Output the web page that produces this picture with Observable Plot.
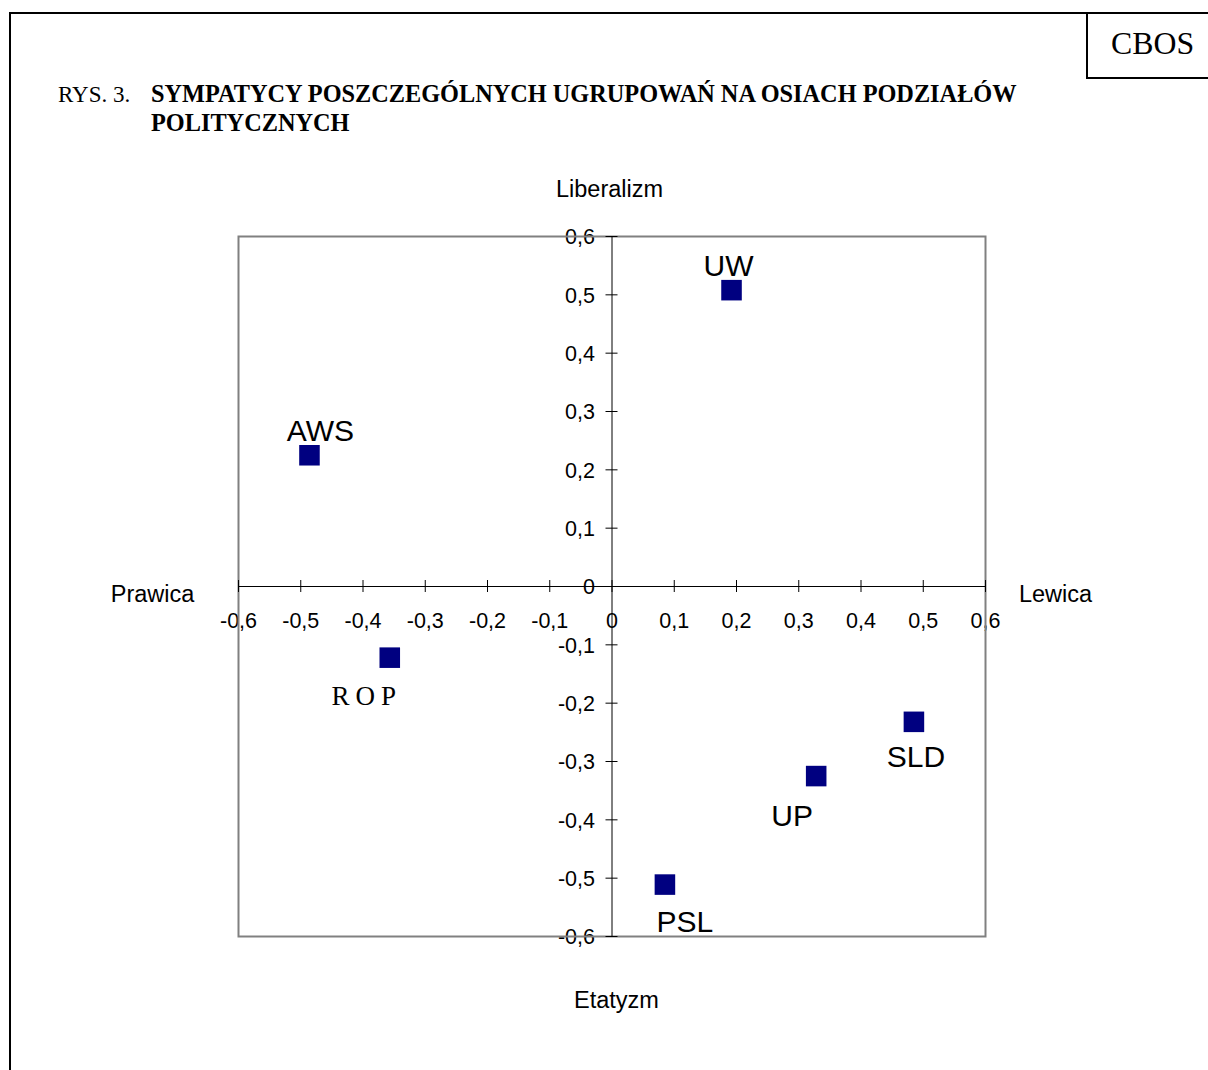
<!DOCTYPE html>
<html>
<head>
<meta charset="utf-8">
<script src="https://cdn.jsdelivr.net/npm/d3@7"></script>
<script src="https://cdn.jsdelivr.net/npm/@observablehq/plot@0.6"></script>
<style>
  html, body { margin: 0; padding: 0; background: #fff; overflow: hidden; }
  #page { position: relative; width: 1208px; height: 1070px; }
  #chart { position: absolute; left: 0; top: 0; }
  .line { position: absolute; background: #000; }
  .serif { position: absolute; font-family: "Liberation Serif", "Times New Roman", serif; color: #000; white-space: nowrap; line-height: 1; }
</style>
</head>
<body>
<div id="page">
  <div id="chart"></div>
  <div class="line" style="left:9px;top:12px;width:1199px;height:2px"></div>
  <div class="line" style="left:9px;top:12px;width:2px;height:1058px"></div>
  <div class="line" style="left:1086px;top:12px;width:2px;height:67px"></div>
  <div class="line" style="left:1086px;top:77px;width:122px;height:2px"></div>
  <div class="serif" style="left:1111px;top:28px;font-size:31.8px">CBOS</div>
  <div class="serif" style="left:58px;top:83px;font-size:23px">RYS. 3.</div>
  <div class="serif" style="left:151px;top:82px;font-size:24.3px;font-weight:bold">SYMPATYCY POSZCZEGÓLNYCH UGRUPOWAŃ NA OSIACH PODZIAŁÓW</div>
  <div class="serif" style="left:151px;top:111px;font-size:24.3px;font-weight:bold">POLITYCZNYCH</div>
</div>
<script>
// ---- data ----
const parties = ["UW", "AWS", "ROP", "SLD", "UP", "PSL"];
const leftRight = [0.192, -0.486, -0.357, 0.485, 0.328, 0.085];       // Prawica (-) .. Lewica (+)
const liberalStatist = [0.508, 0.225, -0.122, -0.232, -0.325, -0.511]; // Etatyzm (-) .. Liberalizm (+)
const tickValues = [-0.6, -0.5, -0.4, -0.3, -0.2, -0.1, 0, 0.1, 0.2, 0.3, 0.4, 0.5, 0.6];
const tickLabels = ["-0,6", "-0,5", "-0,4", "-0,3", "-0,2", "-0,1", "0", "0,1", "0,2", "0,3", "0,4", "0,5", "0,6"];
const axisTitles = {top: "Liberalizm", bottom: "Etatyzm", left: "Prawica", right: "Lewica"};

const points = parties.map((p, i) => ({party: p, x: leftRight[i], y: liberalStatist[i]}));

// label placement (styling, in pixels)
const labelStyle = {
  UW:  {dx: -3,  dy: -24},
  AWS: {dx: 11,  dy: -24},
  ROP: {dx: -23, dy: 39},
  SLD: {dx: 2,   dy: 36},
  UP:  {dx: -24, dy: 40},
  PSL: {dx: 20,  dy: 38}
};

const labelMarks = points.map(p => Plot.text([p], {
  x: "x", y: "y", text: "party",
  dx: labelStyle[p.party].dx, dy: labelStyle[p.party].dy,
  fontSize: p.party === "ROP" ? 27 : 30,
  fontFamily: p.party === "ROP" ? "Liberation Serif, serif" : "Liberation Sans, Arial, sans-serif",
  fill: "black"
}));

const titleFont = {fontSize: 23.5, fill: "black", fontFamily: "Liberation Sans, Arial, sans-serif"};

const chart = Plot.plot({
  width: 1208,
  height: 1070,
  marginLeft: 238,
  marginRight: 223,
  marginTop: 236,
  marginBottom: 134,
  style: {background: "transparent", fontFamily: "Liberation Sans, Arial, sans-serif", overflow: "visible"},
  x: {domain: [-0.6, 0.6], axis: null},
  y: {domain: [-0.6, 0.6], axis: null},
  marks: [
    // tick labels (drawn under lines)
    Plot.text(tickValues, {x: d => d, y: 0, text: (d, i) => tickLabels[i], dy: 35, fontSize: 21.5, fill: "black"}),
    Plot.text(tickValues, {x: 0, y: d => d, text: (d, i) => tickLabels[i], textAnchor: "end", dx: -17, dy: 1, fontSize: 21.5, fill: "black"}),
    // axis titles
    Plot.text([axisTitles.top], {frameAnchor: "top", text: d => d, dx: -2.5, dy: -56, ...titleFont}),
    Plot.text([axisTitles.bottom], {frameAnchor: "bottom", text: d => d, dx: 4.5, dy: 71, ...titleFont}),
    Plot.text([axisTitles.left], {frameAnchor: "left", text: d => d, textAnchor: "middle", dx: -86, dy: 8, ...titleFont}),
    Plot.text([axisTitles.right], {frameAnchor: "right", text: d => d, textAnchor: "middle", dx: 70, dy: 8, ...titleFont}),
    // frame and axes
    Plot.frame({stroke: "#808080", strokeWidth: 2}),
    Plot.ruleY([0], {stroke: "black", strokeWidth: 1}),
    Plot.ruleX([0], {stroke: "black", strokeWidth: 1}),
    Plot.ruleX(tickValues, {x: d => d, y1: 0, y2: 0, insetTop: -6, insetBottom: -6, stroke: "black", strokeWidth: 1}),
    Plot.ruleY(tickValues, {y: d => d, x1: 0, x2: 0, insetLeft: -6, insetRight: -6, stroke: "black", strokeWidth: 1}),
    // points
    Plot.dot(points, {x: "x", y: "y", symbol: "square", r: 11.6, fill: "#000080", stroke: null}),
    ...labelMarks
  ]
});

d3.select(chart).selectAll("text").filter(function () { return this.textContent === "ROP"; })
  .style("letter-spacing", "6px");

document.getElementById("chart").appendChild(chart);
</script>
</body>
</html>
